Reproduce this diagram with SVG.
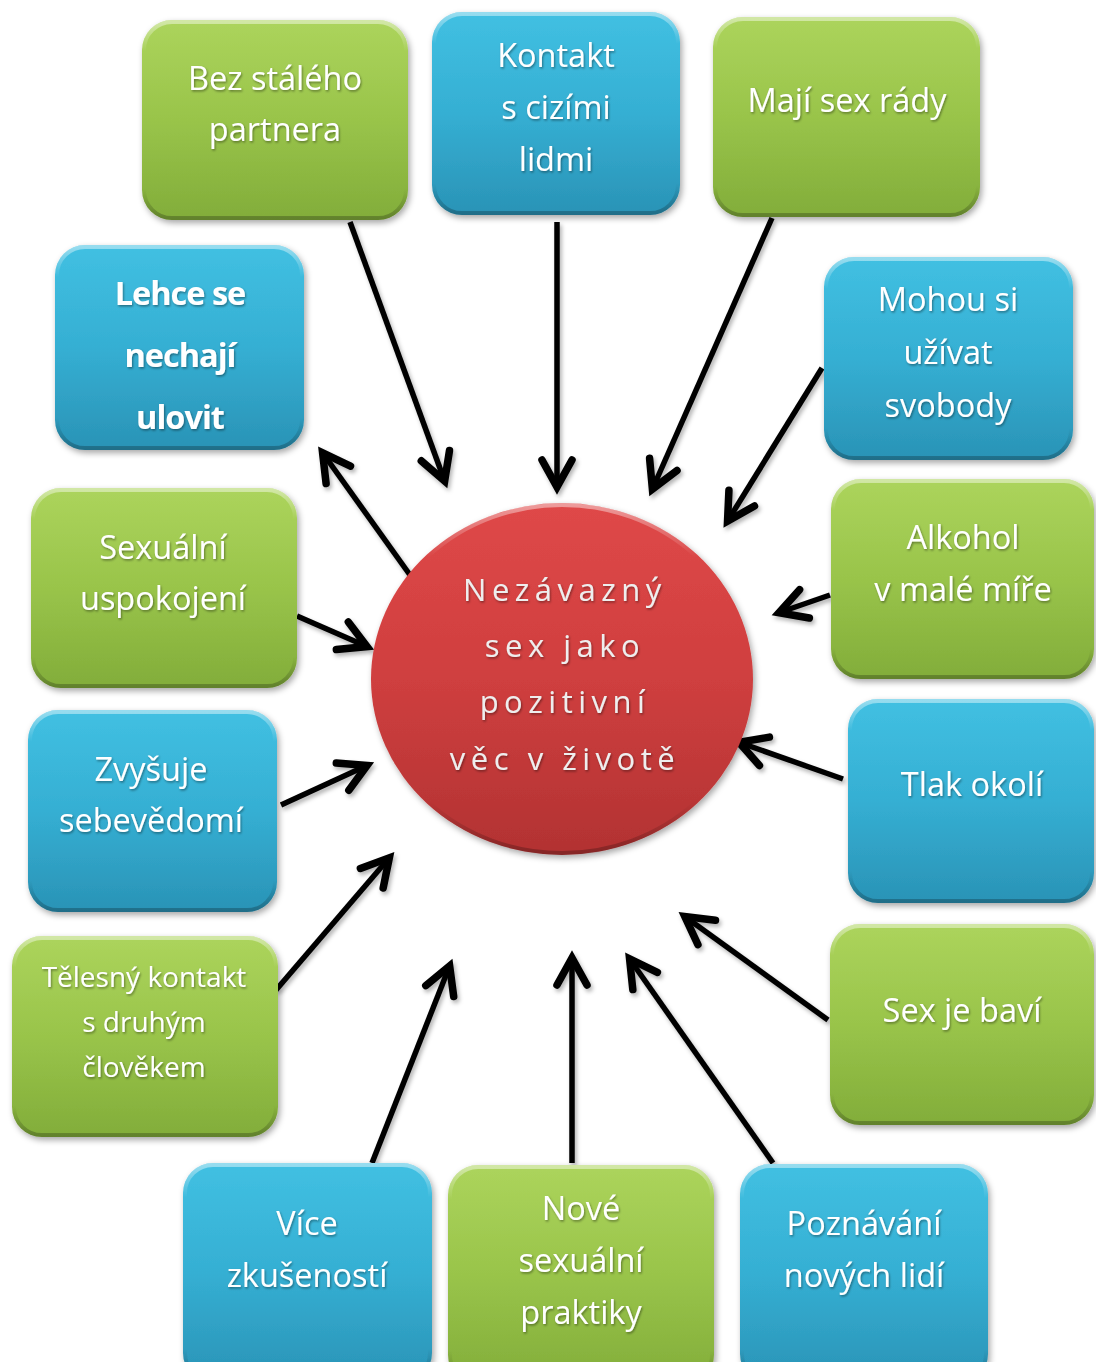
<svg xmlns="http://www.w3.org/2000/svg" width="1096" height="1362" viewBox="0 0 1096 1362">
<defs>
<linearGradient id="gG" x1="0" y1="0" x2="0" y2="1">
<stop offset="0" stop-color="#acd45c"/>
<stop offset="0.5" stop-color="#99c44a"/>
<stop offset="1" stop-color="#82ad3a"/>
</linearGradient>
<linearGradient id="gB" x1="0" y1="0" x2="0" y2="1">
<stop offset="0" stop-color="#41c0e2"/>
<stop offset="0.5" stop-color="#35afd3"/>
<stop offset="1" stop-color="#2a93b6"/>
</linearGradient>
<linearGradient id="gR" x1="0" y1="0" x2="0" y2="1">
<stop offset="0" stop-color="#df4848"/>
<stop offset="0.5" stop-color="#cf3f3f"/>
<stop offset="1" stop-color="#b23232"/>
</linearGradient>
<linearGradient id="rim" x1="0" y1="0" x2="0" y2="1">
<stop offset="0" stop-color="#ffffff" stop-opacity="0.45"/>
<stop offset="0.15" stop-color="#ffffff" stop-opacity="0"/>
<stop offset="0.85" stop-color="#000000" stop-opacity="0"/>
<stop offset="1" stop-color="#000000" stop-opacity="0.25"/>
</linearGradient>
<filter id="sh" x="-10%" y="-10%" width="125%" height="125%">
<feDropShadow dx="2" dy="3" stdDeviation="3" flood-color="#000" flood-opacity="0.35"/>
</filter>
<filter id="ash" x="-20%" y="-20%" width="140%" height="140%">
<feDropShadow dx="2" dy="3" stdDeviation="2" flood-color="#000" flood-opacity="0.3"/>
</filter>
<filter id="tsh" x="-10%" y="-10%" width="120%" height="130%">
<feDropShadow dx="1" dy="1.5" stdDeviation="1" flood-color="#000" flood-opacity="0.4"/>
</filter>
<marker id="ah" viewBox="-40 -20 44 40" refX="0" refY="0" markerWidth="44" markerHeight="40" markerUnits="userSpaceOnUse" orient="auto" overflow="visible">
<path d="M -28,-15 L -1,0 L -28,15" fill="none" stroke="#000" stroke-width="7.5" stroke-linecap="round" stroke-linejoin="miter"/>
</marker>
<style>
.g{fill:url(#gG)}
.b{fill:url(#gB)}
.rim{fill:none;stroke:url(#rim);stroke-width:4}
.t{font-family:"Open Sans","Liberation Sans",sans-serif;font-size:32.5px;fill:#ffffff;text-anchor:middle;filter:url(#tsh)}
.tb{font-family:"Open Sans","Liberation Sans",sans-serif;font-size:32.5px;font-weight:bold;fill:#ffffff;text-anchor:middle;letter-spacing:-1px;filter:url(#tsh)}
.ts{font-family:"Open Sans","Liberation Sans",sans-serif;font-size:28px;fill:#ffffff;text-anchor:middle;filter:url(#tsh)}
.tc{font-family:"Open Sans","Liberation Sans",sans-serif;font-size:31px;fill:#eeeeee;text-anchor:middle;letter-spacing:5.5px;filter:url(#tsh)}
.c{stroke:#000;stroke-width:5.5;fill:none;marker-end:url(#ah)}
</style>
</defs>
<rect width="1096" height="1362" fill="#ffffff"/>

<g id="connectors" filter="url(#ash)">
<line class="c" x1="350" y1="222" x2="445" y2="482"/>
<line class="c" x1="557" y1="222" x2="557" y2="488"/>
<line class="c" x1="772" y1="218" x2="652" y2="490"/>
<line class="c" x1="822" y1="368" x2="727" y2="522"/>
<line class="c" x1="830" y1="595" x2="778" y2="613"/>
<line class="c" x1="843" y1="779" x2="738" y2="742"/>
<line class="c" x1="828" y1="1020" x2="684" y2="916"/>
<line class="c" x1="773" y1="1163" x2="629" y2="958"/>
<line class="c" x1="572" y1="1163" x2="572" y2="957"/>
<line class="c" x1="372" y1="1163" x2="450" y2="965"/>
<line class="c" x1="276" y1="990" x2="390" y2="857"/>
<line class="c" x1="281" y1="805" x2="368" y2="765"/>
<line class="c" x1="297" y1="616" x2="368" y2="647"/>
<line class="c" x1="410" y1="575" x2="322" y2="452"/>
</g>

<g id="center">
<ellipse cx="562" cy="679" rx="191" ry="176" fill="url(#gR)" filter="url(#sh)"/>
<ellipse cx="562" cy="679" rx="189" ry="174" class="rim"/>
<text class="tc" x="565" y="601">Nezávazný</text>
<text class="tc" x="565" y="657">sex jako</text>
<text class="tc" x="565" y="713">pozitivní</text>
<text class="tc" x="565" y="770">věc v životě</text>
</g>

<g id="n1">
<rect class="g" x="142" y="20" width="266" height="200" rx="30" filter="url(#sh)"/>
<rect class="rim" x="144" y="22" width="262" height="196" rx="28"/>
<text class="t" x="275" y="90">Bez stálého</text>
<text class="t" x="275" y="141">partnera</text>
</g>
<g id="n2">
<rect class="b" x="432" y="12" width="248" height="203" rx="30" filter="url(#sh)"/>
<rect class="rim" x="434" y="14" width="244" height="199" rx="28"/>
<text class="t" x="556" y="67">Kontakt</text>
<text class="t" x="556" y="119">s cizími</text>
<text class="t" x="556" y="171">lidmi</text>
</g>
<g id="n3">
<rect class="g" x="713" y="17" width="267" height="200" rx="30" filter="url(#sh)"/>
<rect class="rim" x="715" y="19" width="263" height="196" rx="28"/>
<text class="t" x="847" y="112">Mají sex rády</text>
</g>
<g id="n4">
<rect class="b" x="55" y="245" width="249" height="205" rx="30" filter="url(#sh)"/>
<rect class="rim" x="57" y="247" width="245" height="201" rx="28"/>
<text class="tb" x="180" y="305">Lehce se</text>
<text class="tb" x="180" y="367">nechají</text>
<text class="tb" x="180" y="429">ulovit</text>
</g>
<g id="n5">
<rect class="b" x="824" y="257" width="249" height="203" rx="30" filter="url(#sh)"/>
<rect class="rim" x="826" y="259" width="245" height="199" rx="28"/>
<text class="t" x="948" y="311">Mohou si</text>
<text class="t" x="948" y="364">užívat</text>
<text class="t" x="948" y="417">svobody</text>
</g>
<g id="n6">
<rect class="g" x="31" y="488" width="266" height="200" rx="30" filter="url(#sh)"/>
<rect class="rim" x="33" y="490" width="262" height="196" rx="28"/>
<text class="t" x="163" y="559">Sexuální</text>
<text class="t" x="163" y="610">uspokojení</text>
</g>
<g id="n7">
<rect class="g" x="831" y="479" width="263" height="200" rx="30" filter="url(#sh)"/>
<rect class="rim" x="833" y="481" width="259" height="196" rx="28"/>
<text class="t" x="963" y="549">Alkohol</text>
<text class="t" x="963" y="601">v malé míře</text>
</g>
<g id="n8">
<rect class="b" x="28" y="710" width="249" height="202" rx="30" filter="url(#sh)"/>
<rect class="rim" x="30" y="712" width="245" height="198" rx="28"/>
<text class="t" x="151" y="781">Zvyšuje</text>
<text class="t" x="151" y="832">sebevědomí</text>
</g>
<g id="n9">
<rect class="b" x="848" y="699" width="246" height="204" rx="30" filter="url(#sh)"/>
<rect class="rim" x="850" y="701" width="242" height="200" rx="28"/>
<text class="t" x="972" y="796">Tlak okolí</text>
</g>
<g id="n10">
<rect class="g" x="12" y="936" width="266" height="201" rx="30" filter="url(#sh)"/>
<rect class="rim" x="14" y="938" width="262" height="197" rx="28"/>
<text class="ts" x="144" y="987">Tělesný kontakt</text>
<text class="ts" x="144" y="1032">s druhým</text>
<text class="ts" x="144" y="1077">člověkem</text>
</g>
<g id="n11">
<rect class="g" x="830" y="924" width="264" height="201" rx="30" filter="url(#sh)"/>
<rect class="rim" x="832" y="926" width="260" height="197" rx="28"/>
<text class="t" x="962" y="1022">Sex je baví</text>
</g>
<g id="n12">
<rect class="b" x="183" y="1163" width="249" height="220" rx="30" filter="url(#sh)"/>
<rect class="rim" x="185" y="1165" width="245" height="216" rx="28"/>
<text class="t" x="307" y="1235">Více</text>
<text class="t" x="307" y="1287">zkušeností</text>
</g>
<g id="n13">
<rect class="g" x="448" y="1165" width="266" height="220" rx="30" filter="url(#sh)"/>
<rect class="rim" x="450" y="1167" width="262" height="216" rx="28"/>
<text class="t" x="581" y="1220">Nové</text>
<text class="t" x="581" y="1272">sexuální</text>
<text class="t" x="581" y="1324">praktiky</text>
</g>
<g id="n14">
<rect class="b" x="740" y="1164" width="248" height="220" rx="30" filter="url(#sh)"/>
<rect class="rim" x="742" y="1166" width="244" height="216" rx="28"/>
<text class="t" x="864" y="1235">Poznávání</text>
<text class="t" x="864" y="1287">nových lidí</text>
</g>
</svg>
